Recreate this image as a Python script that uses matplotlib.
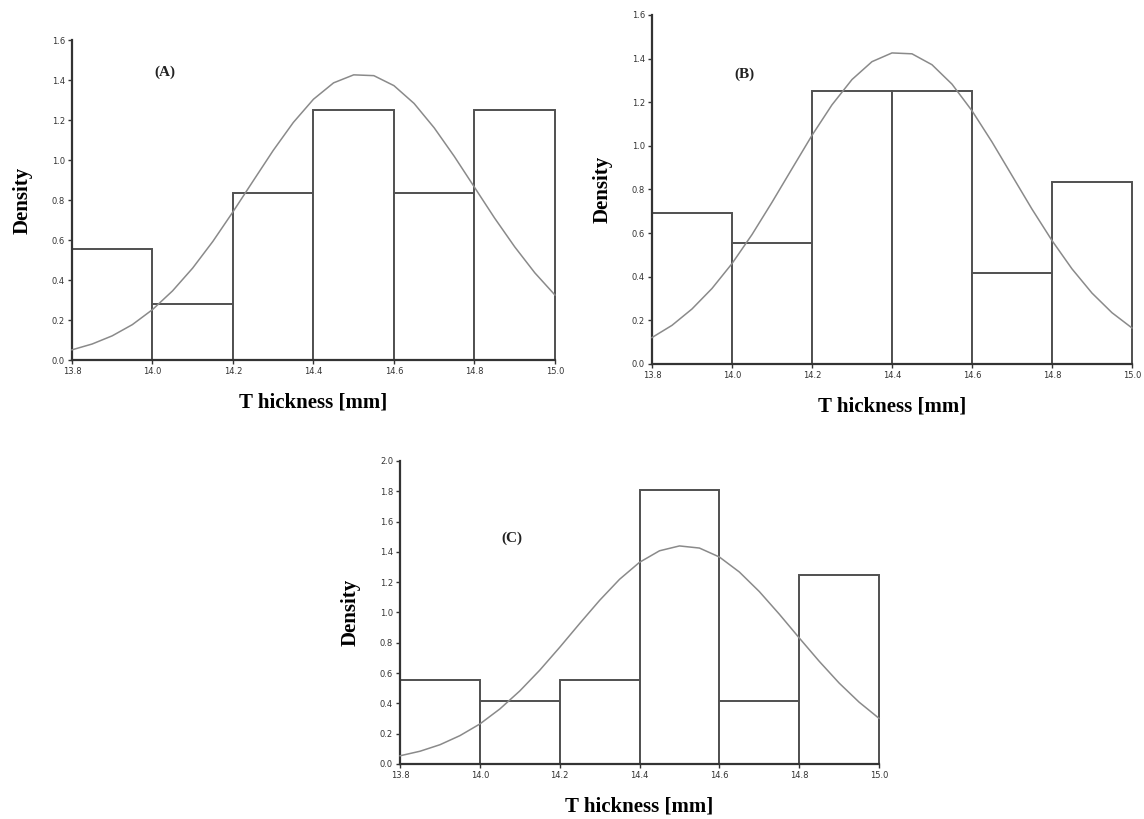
import matplotlib
matplotlib.use('Agg')
import matplotlib.pyplot as plt

# histogram bins (left edges, width 0.2 mm)
bin_left = [13.8, 14.0, 14.2, 14.4, 14.6, 14.8]
bin_width = 0.2

# densities
density_a = [0.556, 0.278, 0.833, 1.25, 0.833, 1.25]
density_b = [0.694, 0.556, 1.25, 1.25, 0.417, 0.833]
density_c = [0.556, 0.417, 0.556, 1.806, 0.417, 1.25]

# normal fit curves, read every 0.05 mm
curve_x = [13.80, 13.85, 13.90, 13.95, 14.00, 14.05, 14.10, 14.15, 14.20,
           14.25, 14.30, 14.35, 14.40, 14.45, 14.50, 14.55, 14.60, 14.65,
           14.70, 14.75, 14.80, 14.85, 14.90, 14.95, 15.00]
curve_a = [0.051, 0.080, 0.121, 0.177, 0.252, 0.346, 0.460, 0.593, 0.741,
           0.895, 1.048, 1.188, 1.304, 1.386, 1.426, 1.422, 1.372, 1.283,
           1.161, 1.018, 0.864, 0.710, 0.566, 0.436, 0.325]
curve_b = [0.121, 0.177, 0.252, 0.346, 0.460, 0.593, 0.741, 0.895, 1.048,
           1.188, 1.304, 1.386, 1.426, 1.422, 1.372, 1.283, 1.161, 1.018,
           0.864, 0.710, 0.566, 0.436, 0.325, 0.235, 0.165]
curve_c = [0.054, 0.084, 0.127, 0.187, 0.264, 0.363, 0.482, 0.619, 0.770,
           0.927, 1.080, 1.219, 1.331, 1.407, 1.439, 1.425, 1.366, 1.267,
           1.138, 0.989, 0.832, 0.678, 0.534, 0.408, 0.301]

x_ticks = [13.8, 14.0, 14.2, 14.4, 14.6, 14.8, 15.0]
x_ticklabels = ['13.8', '14.0', '14.2', '14.4', '14.6', '14.8', '15.0']

panels = [
    # name, densities, curve, axes rect, ymax, panel label centre
    ('(A)', density_a, curve_a, [0.0629, 0.5604, 0.4222, 0.3907], 1.6,
     (14.03, 1.44)),
    ('(B)', density_b, curve_b, [0.5699, 0.5556, 0.4196, 0.4261], 1.6,
     (14.03, 1.33)),
    ('(C)', density_c, curve_c, [0.3497, 0.0672, 0.4187, 0.3700], 2.0,
     (14.08, 1.49)),
]

serif = ['Liberation Serif', 'DejaVu Serif']

fig = plt.figure(figsize=(11.44, 8.19), dpi=100)

for name, dens, curve, rect, ymax, lab_pos in panels:
    ax = fig.add_axes(rect)
    bars = ax.bar(bin_left, dens, width=bin_width, align='edge',
                  color='white', edgecolor='#505050', linewidth=1.4,
                  zorder=2)
    for b in bars:
        b.set_clip_on(False)
    ax.plot(curve_x, curve, color='#8a8a8a', linewidth=1.1, zorder=3,
            clip_on=False)

    ax.set_xlim(13.8, 15.0)
    ax.set_ylim(0, ymax)
    ax.set_xticks(x_ticks)
    ax.set_xticklabels(x_ticklabels)
    yt = [round(0.2 * i, 1) for i in range(int(round(ymax / 0.2)) + 1)]
    ax.set_yticks(yt)
    ax.set_yticklabels(['%.1f' % v for v in yt])
    ax.tick_params(direction='out', length=3, width=1, labelsize=6,
                   colors='#333333', pad=2)

    for side in ('top', 'right'):
        ax.spines[side].set_visible(False)
    for side in ('left', 'bottom'):
        ax.spines[side].set_linewidth(1.6)
        ax.spines[side].set_color('#333333')

    ax.set_ylabel('Density', family=serif, fontweight='bold', fontsize=15,
                  labelpad=14)
    ax.set_xlabel('T hickness [mm]', family=serif, fontweight='bold',
                  fontsize=15, labelpad=12)
    ax.text(lab_pos[0], lab_pos[1], name, family=serif, fontweight='bold',
            fontsize=11, color='#222222', ha='center', va='center')

fig.savefig('out.png', dpi=100)
